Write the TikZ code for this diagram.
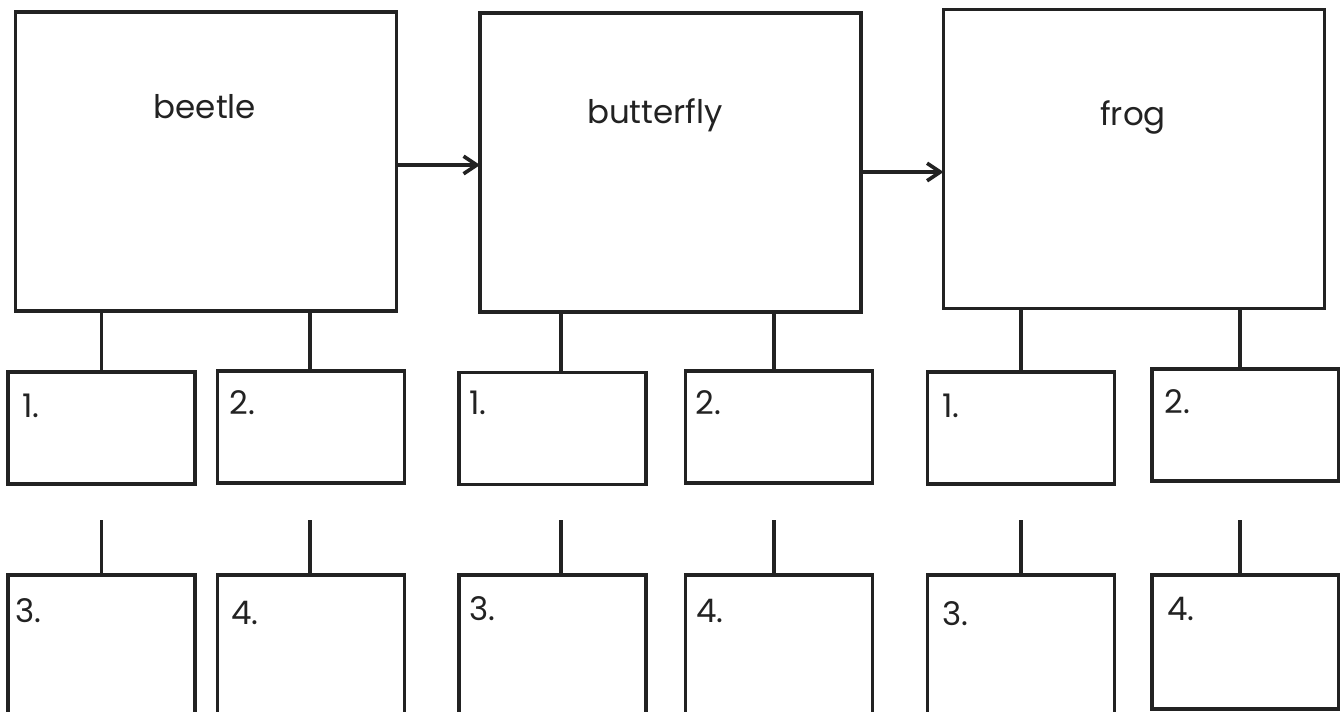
\documentclass[tikz,border=0pt]{standalone}
\usepackage{fontspec}
\setmainfont{Poppins}
\usetikzlibrary{positioning,arrows.meta}
\definecolor{ink}{RGB}{34,34,34}

\begin{document}
\begin{tikzpicture}[x=0.02cm, y=-0.02cm,
  stage/.style={draw=ink, line width=2.1pt, minimum width=7.62cm, minimum height=5.98cm,
                inner sep=0pt, outer sep=0pt},
  cell/.style={draw=ink, line width=2.1pt, minimum width=3.74cm, minimum height=2.24cm,
               inner sep=0pt, outer sep=0pt},
  low/.style={cell, minimum height=3cm, anchor=north},
  stagetext/.style={font=\fontsize{18.5}{22}\selectfont, text=ink, inner sep=0pt},
  numtext/.style={stagetext, anchor=west},
  link/.style={draw=ink, line width=2.1pt},
  ar/.style={link, -{Straight Barb[length=7.5pt, width=10pt]}},
]
\useasboundingbox (0,0) rectangle (1340,711);

% stages
\node[stage] (beetle)    at (206,161.5)  {};
\node[stage] (butterfly) at (670.5,162.5) {};
\node[stage] (frog)      at (1134,159)   {};
\node[stagetext] (beetle-t)    at (205,107)  {beetle};
\node[stagetext] (butterfly-t) at (655,115)  {butterfly};
\node[stagetext] (frog-t)      at (1133,117) {frog};

% first row of cells
\node[cell] (b1) at (101.5,428)  {};
\node[cell] (b2) at (311,427)    {};
\node[cell] (u1) at (552.5,428.5) {};
\node[cell] (u2) at (779,427)    {};
\node[cell] (f1) at (1021,428)   {};
\node[cell] (f2) at (1245.5,425) {};

% second row of cells
\node[low] (b3) at (101.5,575)  {};
\node[low] (b4) at (311,575)    {};
\node[low] (u3) at (552.5,575)  {};
\node[low] (u4) at (779,575)    {};
\node[low] (f3) at (1021,575)   {};
\node[low, minimum height=2.68cm] (f4) at (1245.5,575) {};

% numbers
\node[numtext] (b1-n) at (22,406)   {1.};
\node[numtext] (b2-n) at (229,403)  {2.};
\node[numtext] (u1-n) at (469,403)  {1.};
\node[numtext] (u2-n) at (695,403)  {2.};
\node[numtext] (f1-n) at (942,406)  {1.};
\node[numtext] (f2-n) at (1164,402) {2.};
\node[numtext] (b3-n) at (15,611)   {3.};
\node[numtext] (b4-n) at (231,613)  {4.};
\node[numtext] (u3-n) at (469,609)  {3.};
\node[numtext] (u4-n) at (696,611)  {4.};
\node[numtext] (f3-n) at (942,614)  {3.};
\node[numtext] (f4-n) at (1167,609) {4.};

% arrows between stages
\draw[ar] ([yshift=-0.07cm]beetle.east) -- ([yshift=-0.07cm]beetle.east -| butterfly.west);
\draw[ar] ([yshift=-0.19cm]butterfly.east) -- ([yshift=-0.19cm]butterfly.east -| frog.west);

% stems
\foreach \s/\c/\d/\dx in {beetle/b1/b3/0cm, beetle/b2/b4/-0.02cm,
                          butterfly/u1/u3/0.17cm, butterfly/u2/u4/-0.1cm,
                          frog/f1/f3/0cm, frog/f2/f4/-0.11cm} {
  \draw[link] ([xshift=\dx]\c.north) -- ([xshift=\dx]\c.north |- \s.south);
  \coordinate (\d-top) at ([xshift=\dx]\d.north |- 0,520);
  \draw[link] (\d-top) -- ([xshift=\dx]\d.north);
}
\end{tikzpicture}
\end{document}
